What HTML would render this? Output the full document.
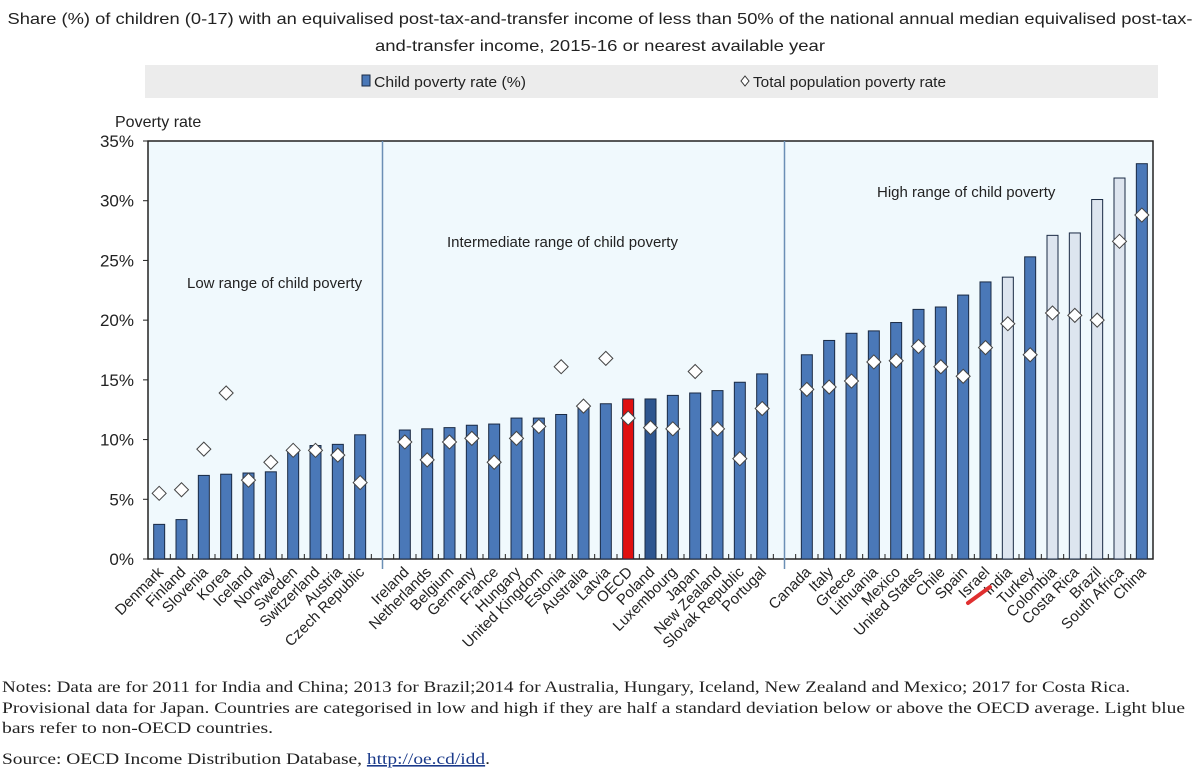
<!DOCTYPE html>
<html><head><meta charset="utf-8"><style>
body{margin:0;background:#fff;width:1200px;height:782px;overflow:hidden;font-family:"Liberation Sans",sans-serif}
svg{display:block}
</style></head><body>
<svg id="chart" width="1200" height="782" xmlns="http://www.w3.org/2000/svg">
<text x="600" y="24" text-anchor="middle" font-size="16" fill="#222" textLength="1185" lengthAdjust="spacingAndGlyphs">Share (%) of children (0-17) with an equivalised post-tax-and-transfer income of less than 50% of the national annual median equivalised post-tax-</text>
<text x="600" y="51" text-anchor="middle" font-size="16" fill="#222" textLength="450" lengthAdjust="spacingAndGlyphs">and-transfer income, 2015-16 or nearest available year</text>
<rect x="145" y="65" width="1013" height="33" fill="#ececec"/>
<g><rect x="362" y="75" width="8" height="11" fill="#4a78b8" stroke="#1a2a44"/><text x="374" y="87" font-size="15" fill="#222" textLength="152" lengthAdjust="spacingAndGlyphs">Child poverty rate (%)</text></g>
<g><path d="M745,76 l4,5 l-4,5 l-4,-5z" fill="#fff" stroke="#333"/><text x="753" y="87" font-size="15" fill="#222" textLength="193" lengthAdjust="spacingAndGlyphs">Total population poverty rate</text></g>
<text x="115" y="127" font-size="16" fill="#222">Poverty rate</text>
<rect x="148" y="141" width="1005" height="418" fill="#f0f9fd" stroke="#222" stroke-width="1.5"/>
<g id="grid"></g><g id="bars"></g><g id="marks"></g><g id="xlab"></g>
<text x="187" y="288" font-size="15" fill="#222">Low range of child poverty</text>
<text x="447" y="247" font-size="15" fill="#222">Intermediate range of child poverty</text>
<text x="877" y="197" font-size="15" fill="#222">High range of  child poverty</text>
<line x1="968" y1="603" x2="990" y2="587" stroke="#e03030" stroke-width="4" stroke-linecap="round"/>
<g font-family="Liberation Serif,serif" font-size="16" fill="#222">
<text x="2" y="692" textLength="1128" lengthAdjust="spacingAndGlyphs">Notes: Data are for 2011 for India and China;  2013 for Brazil;2014 for Australia, Hungary, Iceland, New Zealand and Mexico; 2017 for Costa Rica.</text>
<text x="2" y="713" textLength="1183" lengthAdjust="spacingAndGlyphs">Provisional data for Japan. Countries are categorised in low and high if they are half a standard deviation below or above the OECD average. Light blue</text>
<text x="2" y="733" textLength="271" lengthAdjust="spacingAndGlyphs">bars refer to non-OECD countries.</text>
<text x="2" y="764" textLength="488" lengthAdjust="spacingAndGlyphs">Source: OECD Income Distribution Database,  <tspan text-decoration="underline" fill="#1a3a8a">http://oe.cd/idd</tspan>.</text>
</g>
</svg>
<script>
const categories=["Denmark","Finland","Slovenia","Korea","Iceland","Norway","Sweden","Switzerland","Austria","Czech Republic","","Ireland","Netherlands","Belgium","Germany","France","Hungary","United Kingdom","Estonia","Australia","Latvia","OECD","Poland","Luxembourg","Japan","New Zealand","Slovak Republic","Portugal","","Canada","Italy","Greece","Lithuania","Mexico","United States","Chile","Spain","Israel","India","Turkey","Colombia","Costa Rica","Brazil","South Africa","China"];
const childRate=[2.9,3.3,7.0,7.1,7.2,7.3,9.0,9.5,9.6,10.4,null,10.8,10.9,11.0,11.2,11.3,11.8,11.8,12.1,12.6,13.0,13.4,13.4,13.7,13.9,14.1,14.8,15.5,null,17.1,18.3,18.9,19.1,19.8,20.9,21.1,22.1,23.2,23.6,25.3,27.1,27.3,30.1,31.9,33.1];
const totalRate=[5.5,5.8,9.2,13.9,6.6,8.1,9.1,9.1,8.7,6.4,null,9.8,8.3,9.8,10.1,8.1,10.1,11.1,16.1,12.8,16.8,11.8,11.0,10.9,15.7,10.9,8.4,12.6,null,14.2,14.4,14.9,16.5,16.6,17.8,16.1,15.3,17.7,19.7,17.1,20.6,20.4,20.0,26.6,28.8];
const nonOECD=["India","Colombia","Costa Rica","Brazil","South Africa"];
const yTicks=[0,5,10,15,20,25,30,35];
const NS="http://www.w3.org/2000/svg";
const X0=148,X1=1153,Y0=559,Y1=141,YMAX=35;
const slot=(X1-X0)/categories.length;
const xc=i=>X0+(i+0.5)*slot;
const y=v=>Y0-(v/YMAX)*(Y0-Y1);
function mk(t,a,p){const e=document.createElementNS(NS,t);for(const k in a)e.setAttribute(k,a[k]);p.appendChild(e);return e;}
const grid=document.getElementById('grid'),bars=document.getElementById('bars'),marks=document.getElementById('marks'),xl=document.getElementById('xlab');
yTicks.forEach(t=>{
  const l=mk('line',{x1:X0-5,x2:X0,y1:y(t),y2:y(t),stroke:'#222'},grid);
  
  
  const tx=mk('text',{x:X0-14,y:y(t)+6,'text-anchor':'end','font-size':17,fill:'#222'},grid);
  tx.textContent=t+'%';
  
  
});
categories.forEach((c,i)=>{
  const tk=mk('line',{x1:X0+i*slot,x2:X0+i*slot,y1:Y0,y2:Y0-5,stroke:'#222'},grid);
  
  
  if(c===''){
    const sp=mk('line',{x1:xc(i),x2:xc(i),y1:Y1,y2:Y0+10,stroke:'#6b8fb5','stroke-width':1.5},grid);
    
    
    return;
  }
  let fill='#4a78b8';
  if(nonOECD.includes(c))fill='#dde5ef';
  if(c==='OECD')fill='#e01010';
  if(c==='Poland')fill='#2e5690';
  const v=childRate[i];
  const b=mk('rect',{x:xc(i)-5.5,y:y(v),width:11,height:Y0-y(v),fill:fill,stroke:'#1a2a44','stroke-width':1},bars);
  
  
  const m=totalRate[i],cy=y(m),cx=xc(i);
  const d=mk('path',{d:`M${cx},${cy-7} L${cx+7},${cy} L${cx},${cy+7} L${cx-7},${cy}Z`,fill:'#fff',stroke:'#444','stroke-width':1},marks);
  
  
  const t=mk('text',{x:cx+5,y:Y0+14,'text-anchor':'end','font-size':15,fill:'#222',transform:`rotate(-45 ${cx+5} ${Y0+14})`},xl);
  t.textContent=c;
  
  
});
</script>
</body></html>
